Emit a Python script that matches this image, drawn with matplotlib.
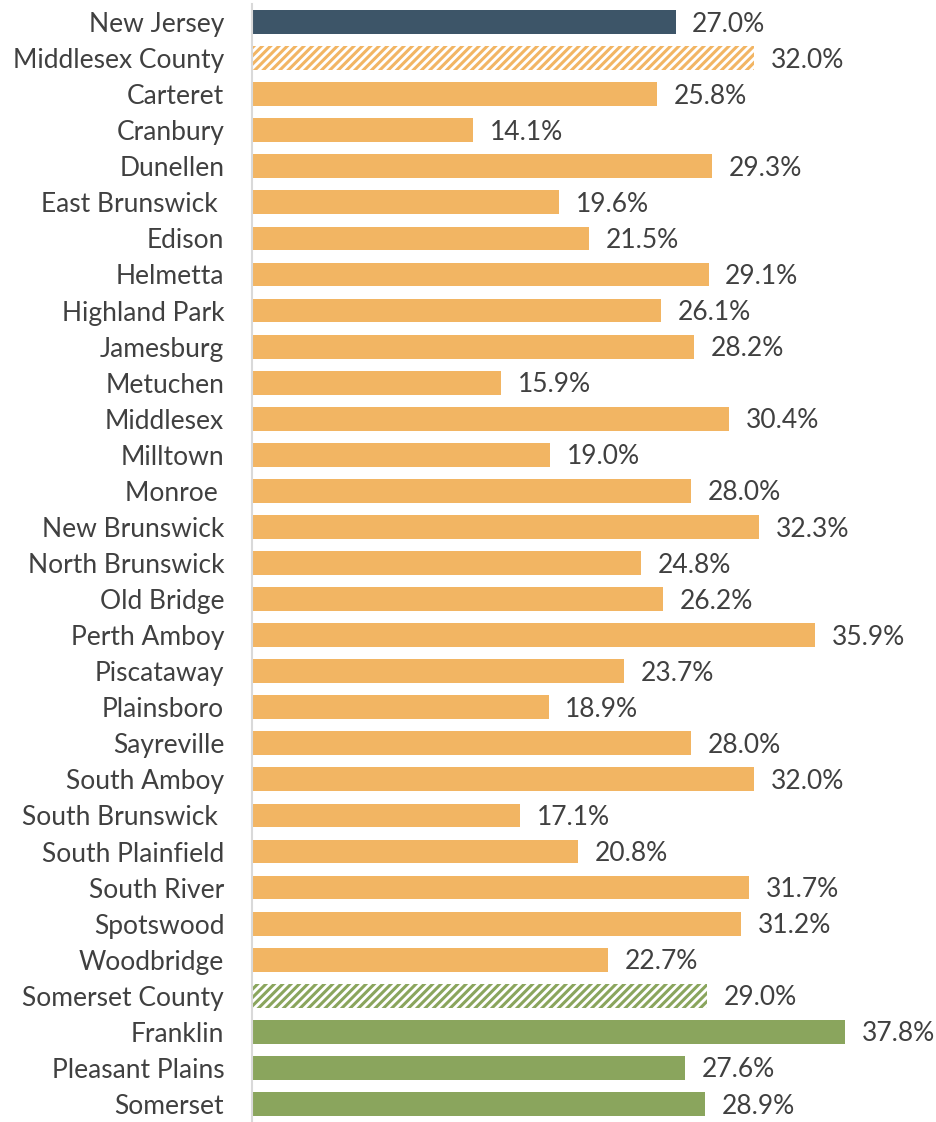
import matplotlib
matplotlib.use("Agg")
import matplotlib.pyplot as plt

places = ["New Jersey", "Middlesex County", "Carteret", "Cranbury", "Dunellen",
          "East Brunswick ", "Edison", "Helmetta", "Highland Park", "Jamesburg",
          "Metuchen", "Middlesex", "Milltown", "Monroe ", "New Brunswick",
          "North Brunswick", "Old Bridge", "Perth Amboy", "Piscataway", "Plainsboro",
          "Sayreville", "South Amboy", "South Brunswick ", "South Plainfield",
          "South River", "Spotswood", "Woodbridge", "Somerset County", "Franklin",
          "Pleasant Plains", "Somerset"]
values = [27.0, 32.0, 25.8, 14.1, 29.3, 19.6, 21.5, 29.1, 26.1, 28.2, 15.9, 30.4,
          19.0, 28.0, 32.3, 24.8, 26.2, 35.9, 23.7, 18.9, 28.0, 32.0, 17.1, 20.8,
          31.7, 31.2, 22.7, 29.0, 37.8, 27.6, 28.9]
# group of each row: state, county total, or municipality within a county
groups = ["state", "mid_county"] + ["mid"] * 25 + ["som_county", "som", "som", "som"]

NAVY = "#3d5568"
ORANGE = "#f2b563"
GREEN = "#8aa55d"
TEXT = "#404040"

plt.rcParams["font.family"] = ["Lato", "DejaVu Sans"]
plt.rcParams["hatch.linewidth"] = 2.2

fig = plt.figure(figsize=(9.36, 11.22), dpi=100)
ax = fig.add_axes([252 / 936, 0, 1 - 252 / 936, 1 - 4 / 1122])

for i, (v, g) in enumerate(zip(values, groups)):
    if g == "state":
        ax.barh(i, v, height=0.66, color=NAVY, linewidth=0)
    elif g == "mid":
        ax.barh(i, v, height=0.66, color=ORANGE, linewidth=0)
    elif g == "som":
        ax.barh(i, v, height=0.66, color=GREEN, linewidth=0)
    else:
        col = ORANGE if g == "mid_county" else GREEN
        ax.barh(i, v, height=0.66, facecolor="white", edgecolor=col,
                hatch="////", linewidth=0)
    ax.annotate(f"{v:.1f}%", xy=(v, i), xytext=(12, -1.5), textcoords="offset points",
                ha="left", va="center", fontsize=19, color=TEXT)

ax.set_xlim(0, 43.6)
ax.set_ylim(len(places) - 0.5, -0.5)
ax.set_yticks(range(len(places)))
ax.set_yticklabels(places, fontsize=19, color=TEXT)
ax.tick_params(axis="y", length=0, pad=20)
ax.set_xticks([])
for side in ["top", "right", "bottom"]:
    ax.spines[side].set_visible(False)
ax.spines["left"].set_color("#d9d9d9")
ax.spines["left"].set_linewidth(1.5)

fig.savefig("out.png", dpi=100)
